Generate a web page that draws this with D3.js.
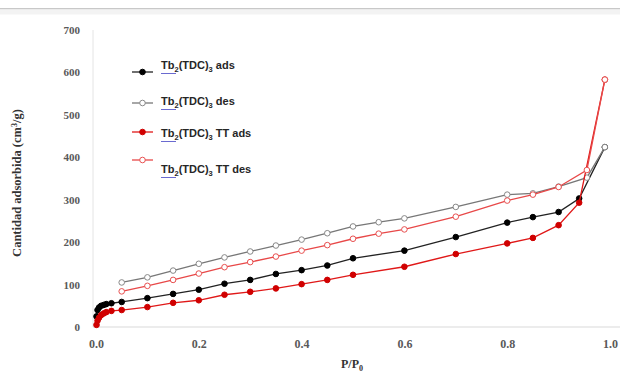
<!DOCTYPE html>
<html>
<head>
<meta charset="utf-8">
<script src="https://cdn.jsdelivr.net/npm/d3@7"></script>
<style>
  body { margin: 0; background: #fff; }
  svg { display: block; }
</style>
</head>
<body>
<svg id="chart" width="620" height="373"></svg>
<script>
// relative pressure + adsorbed amount
var adsX   = [0.001, 0.003, 0.006, 0.01, 0.015, 0.02, 0.03, 0.05, 0.1, 0.15, 0.2, 0.25, 0.3, 0.35, 0.4, 0.45, 0.5, 0.6, 0.7, 0.8, 0.85, 0.9, 0.94, 0.99];
var blackAds = [25, 40, 46, 50, 52, 54, 56, 59, 68, 78, 88, 102, 111, 125, 134, 145, 162, 180, 212, 246, 259, 271, 303, 424];
var redAds   = [5, 15, 22, 28, 32, 35, 38, 40, 47, 57, 63, 76, 83, 91, 101, 111, 123, 142, 172, 197, 210, 240, 293, 583];

var desX   = [0.99, 0.955, 0.9, 0.85, 0.8, 0.7, 0.6, 0.55, 0.5, 0.45, 0.4, 0.35, 0.3, 0.25, 0.2, 0.15, 0.1, 0.05];
var blackDes = [424, 352, 331, 315, 312, 283, 256, 247, 237, 221, 206, 192, 178, 164, 149, 133, 117, 105];
var redDes   = [583, 370, 330, 312, 298, 260, 230, 220, 208, 193, 180, 166, 153, 141, 126, 111, 97, 84];

var xTicks = [0, 0.2, 0.4, 0.6, 0.8, 1.0];
var yTicks = [0, 100, 200, 300, 400, 500, 600, 700];

var series = [
  {name: "ads",    x: adsX, y: blackAds, line: "#222", stroke: "#000", fill: "#000"},
  {name: "des",    x: desX, y: blackDes, line: "#777", stroke: "#888", fill: "#fff"},
  {name: "TT ads", x: adsX, y: redAds,   line: "#e01818", stroke: "#d00000", fill: "#d00000"},
  {name: "TT des", x: desX, y: redDes,   line: "#e84848", stroke: "#e85050", fill: "#fff"}
];

var svg = d3.select("#chart");

// thin frame line at the top of the picture
svg.append("rect").attr("x", 0).attr("y", 8).attr("width", 620).attr("height", 1.5).attr("fill", "#c8c8c8");
svg.append("rect").attr("x", 0).attr("y", 9.5).attr("width", 620).attr("height", 5).attr("fill", "#f3f3f3");

var x = d3.scaleLinear().domain([0, 1]).range([96, 610]);
var y = d3.scaleLinear().domain([0, 700]).range([327, 30]);

var serif = "'Liberation Serif', 'Times New Roman', serif";

// axes (Excel look: light line, no ticks)
var xAxis = d3.axisBottom(x).tickValues(xTicks).tickSize(0).tickPadding(12).tickFormat(d3.format(".1f"));
var gx = svg.append("g").attr("transform", "translate(0," + y(0) + ")").call(xAxis);
gx.select(".domain").attr("stroke", "#d9d9d9").attr("d", "M93,0H620");
gx.selectAll("text").attr("font-family", serif).attr("font-size", 12).attr("font-weight", "bold").attr("fill", "#595959");

var yAxis = d3.axisLeft(y).tickValues(yTicks).tickSize(0).tickPadding(16);
var gy = svg.append("g").attr("transform", "translate(" + x(0) + ",0)").call(yAxis);
gy.select(".domain").attr("stroke", "#e4e4e4").attr("d", "M-3,30V327");
gy.selectAll("text").attr("font-family", serif).attr("font-size", 11).attr("font-weight", "bold").attr("fill", "#595959");

// axis titles
var xt = svg.append("text").attr("x", 352).attr("y", 368).attr("text-anchor", "middle")
  .attr("font-family", serif).attr("font-size", 12).attr("font-weight", "bold").attr("fill", "#333");
xt.append("tspan").text("P/P");
xt.append("tspan").attr("font-size", 8).attr("dy", 3).text("0");

var yt = svg.append("text").attr("transform", "translate(21,183) rotate(-90)").attr("text-anchor", "middle")
  .attr("font-family", serif).attr("font-size", 12.5).attr("font-weight", "bold").attr("fill", "#333");
yt.append("tspan").text("Cantidad adsorbida (cm");
yt.append("tspan").attr("font-size", 8).attr("dy", -4).text("3");
yt.append("tspan").attr("dy", 4).text("/g)");

// lines + markers
var line = d3.line().x(function(d) { return x(d[0]); }).y(function(d) { return y(d[1]); });

series.forEach(function(s) {
  var pts = s.x.map(function(v, i) { return [v, s.y[i]]; });
  svg.append("path").datum(pts).attr("d", line).attr("fill", "none")
    .attr("stroke", s.line).attr("stroke-width", 1.3);
  svg.append("g").selectAll("circle").data(pts).enter().append("circle")
    .attr("cx", function(d) { return x(d[0]); })
    .attr("cy", function(d) { return y(d[1]); })
    .attr("r", 2.8)
    .attr("fill", s.fill)
    .attr("stroke", s.stroke)
    .attr("stroke-width", 1);
});

// legend (marker rows and text rows are not quite aligned in the original)
var legMarkY = [72, 103, 132, 160];
var legTextY = [69, 105, 137, 173];
var sans = "'Liberation Sans Narrow', 'Arial Narrow', 'Liberation Sans', sans-serif";
series.forEach(function(s, i) {
  var g = svg.append("g");
  g.append("line").attr("x1", 132).attr("x2", 153).attr("y1", legMarkY[i]).attr("y2", legMarkY[i])
    .attr("stroke", s.line).attr("stroke-width", 1.3);
  g.append("circle").attr("cx", 142.5).attr("cy", legMarkY[i]).attr("r", 2.8)
    .attr("fill", s.fill).attr("stroke", s.stroke);
  var t = g.append("text").attr("x", 161).attr("y", legTextY[i]).attr("font-family", sans)
    .attr("font-size", 11).attr("font-weight", "bold").attr("fill", "#262626");
  t.append("tspan").text("Tb");
  t.append("tspan").attr("font-size", 7.5).attr("dy", 3).text("2");
  t.append("tspan").attr("dy", -3).text("(TDC)");
  t.append("tspan").attr("font-size", 7.5).attr("dy", 3).text("3");
  t.append("tspan").attr("dy", -3).text(" " + s.name);
  // blue spell-check style underline under "Tb2"
  g.append("line").attr("x1", 161).attr("x2", 176).attr("y1", legTextY[i] + 4.5).attr("y2", legTextY[i] + 4.5)
    .attr("stroke", "#6a6ad0").attr("stroke-width", 1);
});
</script>
</body>
</html>
